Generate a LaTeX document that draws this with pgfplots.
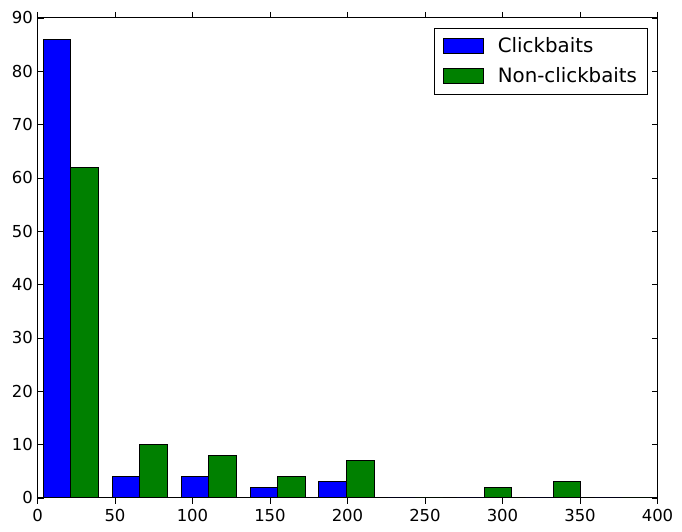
\documentclass[border=0pt]{standalone}
\usepackage{pgfplots}
\pgfplotsset{compat=1.18}
\usepackage{fontspec}
\setmainfont{DejaVu Sans}
\definecolor{mblue}{rgb}{0,0,1}
\definecolor{mgreen}{rgb}{0,0.5,0}
\begin{document}
\begin{tikzpicture}
\begin{axis}[
  scale only axis,
  width=620bp, height=480bp,
  xmin=0, xmax=400, ymin=0, ymax=90,
  enlargelimits=false,
  xtick distance=50, ytick distance=10,
  minor tick num=0,
  tick align=inside,
  xtick pos=both, ytick pos=both,
  major tick length=6bp,
  tick style={black, line width=0.8bp},
  axis line style={black, line width=1bp},
  /pgf/number format/assume math mode=true,
  ticklabel style={font=\fontsize{16.5bp}{20bp}\selectfont},
  xticklabel style={yshift=-2bp},
  yticklabel style={xshift=-1bp},
  ybar, bar width=17.78, bar shift=0pt,
  legend style={at={(1,1)}, anchor=north east, xshift=-10bp, yshift=-10bp,
    draw=black, line width=1bp, font=\fontsize{19.8bp}{24bp}\selectfont,
    inner xsep=8bp, inner ysep=8bp, row sep=10bp, column sep=0bp,
    cells={anchor=west, text height=14.5bp, text depth=4bp, inner ysep=2bp, inner xsep=6bp}},
  legend cell align=left,
]
\addplot[fill=mblue, draw=black, line width=1bp,
  legend image code/.code={\draw[fill=mblue,draw=black,line width=1bp] (0bp,-7.5bp) rectangle (40bp,7.5bp);
  \path (52bp,0bp);}]
  coordinates {(12.64,86) (57.10,4) (101.56,4) (146.02,2) (190.48,3) (234.94,0) (279.40,0) (323.86,0) (368.32,0)};
\addlegendentry{Clickbaits}
\addplot[fill=mgreen, draw=black, line width=1bp,
  legend image code/.code={\draw[fill=mgreen,draw=black,line width=1bp] (0bp,-7.5bp) rectangle (40bp,7.5bp);
  \path (52bp,0bp);}]
  coordinates {(30.42,62) (74.88,10) (119.34,8) (163.80,4) (208.26,7) (252.72,0) (297.18,2) (341.64,3) (386.10,0)};
\addlegendentry{Non-clickbaits}
\end{axis}
\pgfresetboundingbox
\path ([shift={(-37.5bp,-34bp)}]current axis.south west) rectangle ([shift={(24.5bp,18bp)}]current axis.north east);
\end{tikzpicture}
\end{document}
